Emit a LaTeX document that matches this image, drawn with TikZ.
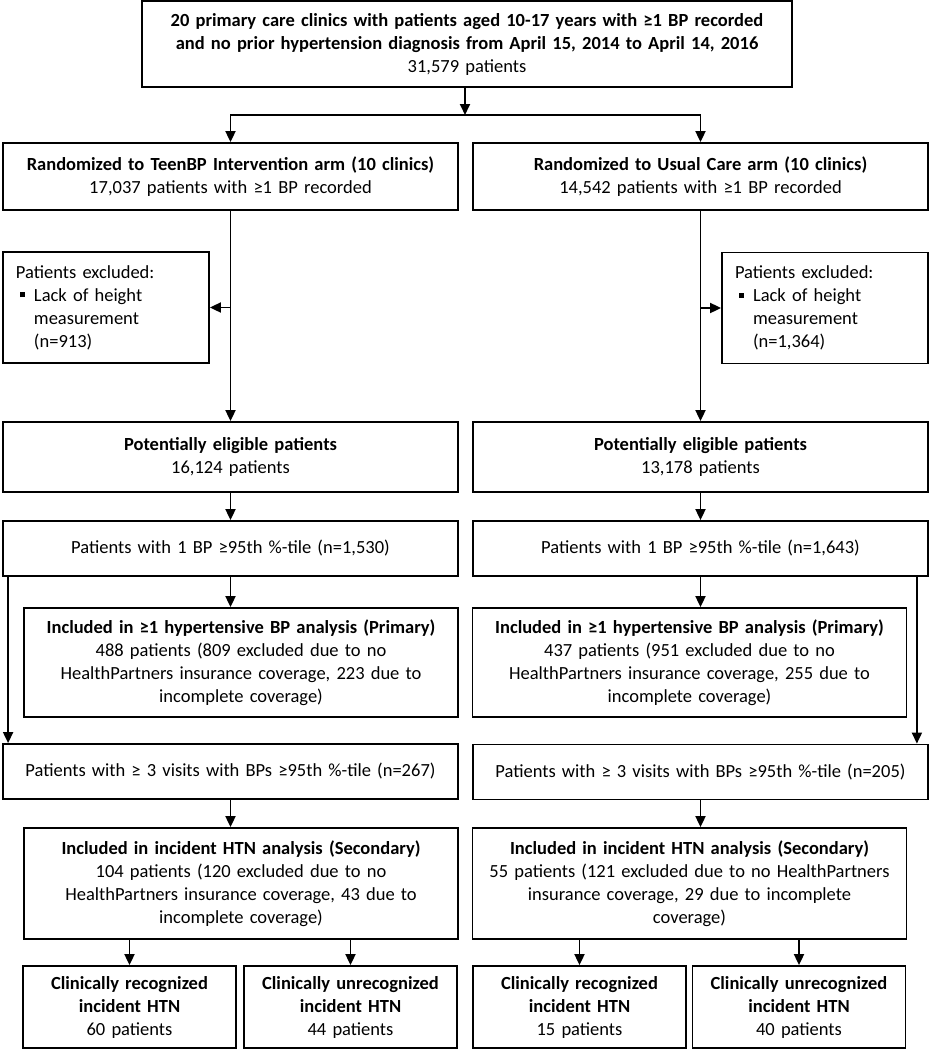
\documentclass[tikz,border=0pt]{standalone}
\usepackage{fontspec}
\setmainfont{Carlito}
\usepackage{tikz}
\usetikzlibrary{positioning}
\usetikzlibrary{arrows.meta}
\usetikzlibrary{calc}

\newcommand{\sqbul}{\hspace*{4pt}\rule[4pt]{5pt}{5pt}\hspace{9pt}}

\begin{document}
\begin{tikzpicture}[x=1pt, y=1pt, line width=1.8pt,
  box/.style={draw, align=center, inner sep=0pt, font=\fontsize{18.5}{23}\selectfont},
  wide/.style={box, minimum width=455pt, text width=445pt},
  mid/.style={box, minimum width=434pt, text width=425pt},
  small/.style={box, minimum width=213pt, text width=208pt},
  arr/.style={-{Triangle[length=11pt, width=10pt]}}]

\useasboundingbox (0,0) rectangle (930,-1050);

% top of the chart
\node (src) [box, minimum width=650pt, minimum height=86pt, text width=640pt] at (467,-44)
  {\textbf{20 primary care clinics with patients aged 10-17 years with ≥1 BP recorded}\\
   \textbf{and no prior hypertension diagnosis from April 15, 2014 to April 14, 2016}\\
   31,579 patients};
\coordinate (split) at (465,-115);

\node (armL) [wide, minimum height=67pt] at (230.5,-176.5)
  {\textbf{Randomized to TeenBP Intervention arm (10 clinics)}\\17,037 patients with ≥1 BP recorded};
\node (armR) [wide, minimum height=67pt] at (700.5,-176.5)
  {\textbf{Randomized to Usual Care arm (10 clinics)}\\14,542 patients with ≥1 BP recorded};

% exclusions
\node (exL) [box, align=left, minimum width=206pt, minimum height=111pt, text width=180pt] at (106,-307.5)
  {Patients excluded:\\\sqbul Lack of height\\\hspace*{18pt}measurement\\\hspace*{18pt}(n=913)};
\node (exR) [box, align=left, minimum width=206pt, minimum height=111pt, text width=180pt] at (825,-308)
  {Patients excluded:\\\sqbul Lack of height\\\hspace*{18pt}measurement\\\hspace*{18pt}(n=1,364)};

\node (eligL) [wide, minimum height=70pt] at (230.5,-457)
  {\textbf{Potentially eligible patients}\\16,124 patients};
\node (eligR) [wide, minimum height=70pt] at (700.5,-457)
  {\textbf{Potentially eligible patients}\\13,178 patients};

\node (oneL) [wide, minimum height=55pt] at (230.5,-548.5)
  {Patients with 1 BP ≥95th \%-tile (n=1,530)};
\node (oneR) [wide, minimum height=55pt] at (700.5,-548.5)
  {Patients with 1 BP ≥95th \%-tile (n=1,643)};

% primary analysis
\node (primL) [mid, minimum height=109pt] at (241,-662.5)
  {\textbf{Included in ≥1 hypertensive BP analysis (Primary)}\\
   488 patients (809 excluded due to no\\
   HealthPartners insurance coverage, 223 due to\\
   incomplete coverage)};
\node (primR) [mid, minimum height=109pt] at (689.5,-662.5)
  {\textbf{Included in ≥1 hypertensive BP analysis (Primary)}\\
   437 patients (951 excluded due to no\\
   HealthPartners insurance coverage, 255 due to\\
   incomplete coverage)};

\node (threeL) [wide, minimum height=55pt] at (230.5,-771.5)
  {Patients with ≥ 3 visits with BPs ≥95th \%-tile (n=267)};
\node (threeR) [wide, minimum height=55pt] at (700.5,-772)
  {Patients with ≥ 3 visits with BPs ≥95th \%-tile (n=205)};

% secondary analysis
\node (secL) [mid, minimum height=111pt] at (241,-883.5)
  {\textbf{Included in incident HTN analysis (Secondary)}\\
   104 patients (120 excluded due to no\\
   HealthPartners insurance coverage, 43 due to\\
   incomplete coverage)};
\node (secR) [mid, minimum height=111pt] at (689.5,-883.5)
  {\textbf{Included in incident HTN analysis (Secondary)}\\
   55 patients (121 excluded due to no HealthPartners\\
   insurance coverage, 29 due to incomplete\\
   coverage)};

\node (recL) [small, minimum height=82pt] at (129.5,-1007)
  {\textbf{Clinically recognized}\\\textbf{incident HTN}\\60 patients};
\node (unrL) [small, minimum height=82pt] at (350.5,-1007)
  {\textbf{Clinically unrecognized}\\\textbf{incident HTN}\\44 patients};
\node (recR) [small, minimum height=82pt] at (579.5,-1007)
  {\textbf{Clinically recognized}\\\textbf{incident HTN}\\15 patients};
\node (unrR) [small, minimum height=82pt] at (799,-1007)
  {\textbf{Clinically unrecognized}\\\textbf{incident HTN}\\40 patients};

\coordinate (brL) at (armL.south |- exL.east);
\coordinate (brR) at (armR.south |- exR.west);

\draw[arr] (src.south -| split) -- (split);
\draw[arr] (split) -| (armL);
\draw[arr] (split) -| (armR);

\draw[arr] (armL) -- (eligL);
\draw[arr] (armR) -- (eligR);
\draw[arr] (brL) -- (exL.east);
\draw[arr] (brR) -- (exR.west);

\draw[arr] (eligL) -- (oneL);
\draw[arr] (eligR) -- (oneR);
\draw[arr] (oneL.south) -- (oneL.south |- primL.north);
\draw[arr] (oneR.south) -- (oneR.south |- primR.north);

\draw[arr] ([xshift=6pt]oneL.south west) -- ([xshift=6pt]threeL.north west);
\draw[arr] ([xshift=-12pt]oneR.south east) -- ([xshift=-12pt]threeR.north east);

\draw[arr] (threeL.south) -- (threeL.south |- secL.north);
\draw[arr] (threeR.south) -- (threeR.south |- secR.north);

\draw[arr] (secL.south -| recL) -- (recL);
\draw[arr] (secL.south -| unrL) -- (unrL);
\draw[arr] (secR.south -| recR) -- (recR);
\draw[arr] (secR.south -| unrR) -- (unrR);

\end{tikzpicture}
\end{document}
